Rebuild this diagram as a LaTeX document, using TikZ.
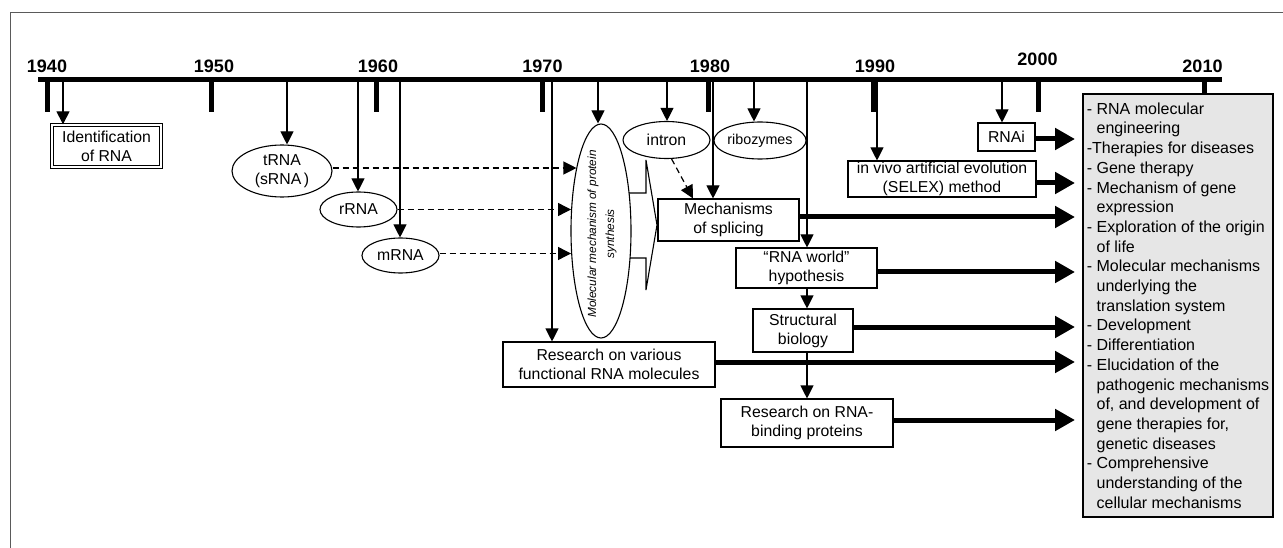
\documentclass[tikz,border=0pt]{standalone}
\usepackage{fontspec}
\setmainfont{Liberation Sans}
\usetikzlibrary{arrows.meta,shapes.geometric,calc}
\definecolor{boxgray}{RGB}{230,230,230}
\definecolor{framegray}{RGB}{90,90,90}
\newcommand\contind{\phantom{-\ }}
\begin{document}
\begin{tikzpicture}[x=1pt,y=-1pt,
  txt/.style={font=\fontsize{15.8}{19}\selectfont},
  boxn/.style={draw, line width=1.1pt, inner sep=0pt, align=center, txt},
  elln/.style={ellipse, draw, line width=1.1pt, inner sep=0pt, align=center, txt},
  yearlbl/.style={font=\fontsize{18}{20}\selectfont\bfseries},
  yeartick/.style={line width=5pt},
  thinarr/.style={line width=1.1pt, -{Triangle[length=13pt,width=13pt]}},
  dasharr/.style={thinarr, line width=1.2pt, dash pattern=on 6pt off 4pt},
  bigarr/.style={line width=5pt, -{Triangle[length=20pt,width=21pt]}},
]
\useasboundingbox (0,0) rectangle (1283,548);
% frame
\draw[framegray, line width=1pt] (10,548) -- (10,13) -- (1283,13);

% timeline
\draw[line width=5pt] (38,80) -- (1222,80);
\foreach \x in {47.7,211.7,376.7,542.7,708,873,1038,1204}
  \draw[yeartick] (\x,80) -- (\x,112);
\node[yearlbl] (y1940) at (47,66) {1940};
\node[yearlbl] (y1950) at (214,66) {1950};
\node[yearlbl] (y1960) at (378,66) {1960};
\node[yearlbl] (y1970) at (542.5,66) {1970};
\node[yearlbl] (y1980) at (710,66) {1980};
\node[yearlbl] (y1990) at (875,66) {1990};
\node[yearlbl] (y2000) at (1037.5,59) {2000};
\node[yearlbl] (y2010) at (1202.5,66) {2010};

% start points on the timeline
\coordinate (tId) at (63,80);
\coordinate (tT) at (287,80);
\coordinate (tR) at (358,80);
\coordinate (tM) at (400,80);
\coordinate (tV) at (552,80);
\coordinate (tP) at (598,80);
\coordinate (tI) at (667,80);
\coordinate (tS) at (713,80);
\coordinate (tZ) at (754,80);
\coordinate (tW) at (807,80);
\coordinate (tE) at (877,80);
\coordinate (tA) at (1002,80);
\coordinate (tgt) at (1075,0);

% nodes
\node[boxn, double, double distance=2pt, line width=0.8pt, minimum width=109.5pt, minimum height=42.5pt] (idrna) at (106.5,146) {Identification\\of RNA};
\node[elln, minimum width=100pt, minimum height=52pt] (trna) at (282,171) {tRNA\\(sRNA\,)};
\node[elln, minimum width=77pt, minimum height=35pt] (rrna) at (358.5,209.5) {rRNA};
\node[elln, minimum width=77pt, minimum height=35pt] (mrna) at (400.5,255.5) {mRNA};
\node[elln, minimum width=60pt, minimum height=214pt] (ps) at (601,231) {};
\node[rotate=90, align=center, inner sep=0pt, font=\fontsize{11.8}{18}\selectfont\itshape] (pstxt) at (602,234) {Molecular mechanism of protein\\synthesis};
\node[elln, minimum width=87pt, minimum height=37pt] (intron) at (666.5,140) {intron};
\node[elln, minimum width=90pt, minimum height=37pt, font=\fontsize{14.3}{17}\selectfont] (ribo) at (760,140.5) {ribozymes};
\node[boxn, minimum width=141pt, minimum height=42pt] (splice) at (728.5,220) {Mechanisms\\of splicing};
\node[boxn, minimum width=141pt, minimum height=40pt] (world) at (806.5,268) {“RNA world”\\hypothesis};
\node[boxn, minimum width=100pt, minimum height=43pt] (struct) at (803,330.5) {Structural\\biology};
\node[boxn, minimum width=172pt, minimum height=48pt] (rbp) at (807,423) {Research on RNA-\\binding proteins};
\node[boxn, minimum width=212pt, minimum height=45pt] (various) at (609,364.5) {Research on various\\functional RNA molecules};
\node[boxn, minimum width=57pt, minimum height=28pt] (rnai) at (1006.5,137) {RNAi};
\node[boxn, minimum width=188pt, minimum height=36pt] (selex) at (942,179) {in vivo artificial evolution\\(SELEX) method};
\node[draw, line width=1.1pt, fill=boxgray, minimum width=190pt, minimum height=423pt, align=left, inner sep=0pt, font=\fontsize{16}{19.7}\selectfont] (out) at (1178,305.5) {%
- RNA molecular\\
\contind engineering\\
-Therapies for diseases\\
- Gene therapy\\
- Mechanism of gene\\
\contind expression\\
- Exploration of the origin\\
\contind of life\\
- Molecular mechanisms\\
\contind underlying the\\
\contind translation system\\
- Development\\
- Differentiation\\
- Elucidation of the\\
\contind pathogenic mechanisms\\
\contind of, and development of\\
\contind gene therapies for,\\
\contind genetic diseases\\
- Comprehensive\\
\contind understanding of the\\
\contind cellular mechanisms};

% block arrow from protein synthesis to splicing
\draw[line width=1.1pt] (629,193) -- (646,193) -- (646,160) -- (657,225) -- (646,290) -- (646,258) -- (630,258);

% arrows from the timeline
\draw[thinarr] (tId) -- (idrna.north -| tId);
\draw[thinarr] (tT) -- (trna.north -| tT);
\draw[thinarr] (tR) -- (rrna.north -| tR);
\draw[thinarr] (tM) -- (mrna.north -| tM);
\draw[thinarr] (tV) -- (various.north -| tV);
\draw[thinarr] (tP) -- (ps.north -| tP);
\draw[thinarr] (tI) -- (intron.north -| tI);
\draw[thinarr] (tS) -- (splice.north -| tS);
\draw[thinarr] (tZ) -- (ribo.north -| tZ);
\draw[thinarr] (tW) -- (world.north -| tW);
\draw[thinarr] (tE) -- (selex.north -| tE);
\draw[thinarr] (tA) -- (rnai.north -| tA);
\draw[thinarr] (world.south -| tW) -- (struct.north -| tW);
\draw[thinarr] (struct.south -| rbp.north) -- (rbp.north);

% dashed arrows
\draw[dasharr] ($(trna.east)+(0,-3)$) -- ($(trna.east -| ps.111)+(0,-3)$);
\draw[dasharr] (rrna.east) -- (rrna.east -| ps.145);
\draw[dasharr] ($(mrna.east)+(0,-2)$) -- ($(mrna.east -| ps.215)+(0,-2)$);
\draw[dasharr] (intron.-75) -- ($(splice.north west)!0.25!(splice.north east)$);

% thick arrows to the outcome box
\draw[bigarr] ($(rnai.east)+(0,2)$) -- ($(rnai.east -| tgt)+(0,2)$);
\draw[bigarr] ($(selex.east)+(0,4)$) -- ($(selex.east -| tgt)+(0,4)$);
\draw[bigarr] ($(splice.east)+(0,-3)$) -- ($(splice.east -| tgt)+(0,-3)$);
\draw[bigarr] ($(world.east)+(0,4)$) -- ($(world.east -| tgt)+(0,4)$);
\draw[bigarr] ($(struct.east)+(0,-3.5)$) -- ($(struct.east -| tgt)+(0,-3.5)$);
\draw[bigarr] ($(various.east)+(0,-2.5)$) -- ($(various.east -| tgt)+(0,-2.5)$);
\draw[bigarr] ($(rbp.east)+(0,-3)$) -- ($(rbp.east -| tgt)+(0,-3)$);
\end{tikzpicture}
\end{document}
